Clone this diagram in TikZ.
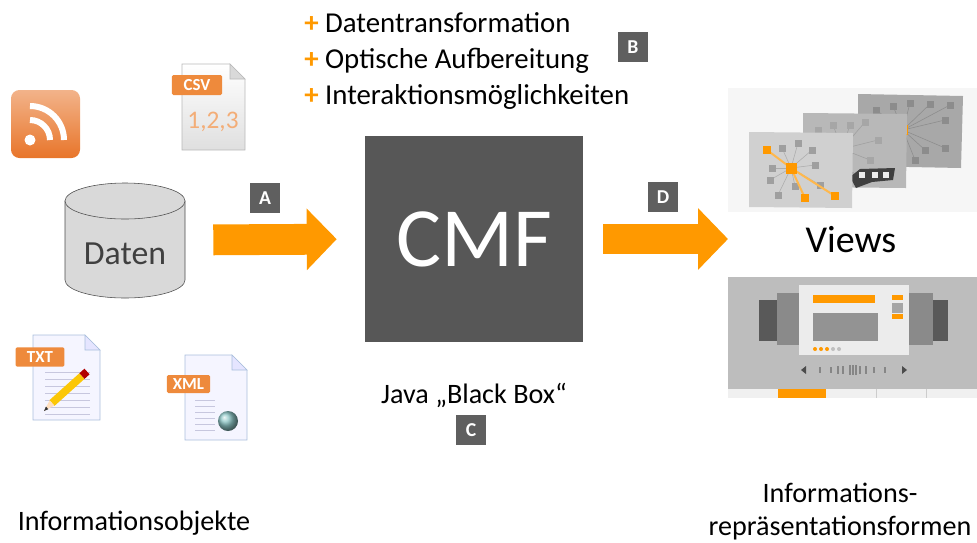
\documentclass[tikz,border=0pt]{standalone}
\usepackage{fontspec}
\setmainfont{Carlito}
\usetikzlibrary{arrows.meta}
\definecolor{cmforange}{HTML}{FF9900}
\definecolor{taggray}{HTML}{5F5F5F}
\definecolor{boxgray}{HTML}{575757}
\definecolor{rssorange}{HTML}{E8752A}
\definecolor{taborange}{HTML}{EE8A3C}
\definecolor{pagerim}{HTML}{A9BFDC}

\begin{document}
\begin{tikzpicture}[x=0.025cm, y=-0.025cm,
    txt/.style={font=\fontsize{20}{25}\selectfont, align=center, inner sep=0pt},
    tag/.style={fill=taggray, text=white, font=\bfseries\fontsize{14}{14}\selectfont, minimum size=0.75cm, inner sep=0pt},
    bigarrow/.style={draw=cmforange, line width=0.77cm, -{Triangle[length=0.75cm, width=1.5cm]}},
    filetab/.style={fill=taborange, rounded corners=1pt, text=white, font=\bfseries\fontsize{12}{12}\selectfont, inner sep=0pt},
    sq/.style={fill=gray!90}
]
\useasboundingbox (0,0) rectangle (977,542);

% sources
\shade[rounded corners=6pt, top color=rssorange!55!white, bottom color=rssorange] (11,90) rectangle (80,158);
\fill[white] (30,140) circle (5.5);
\draw[white, line width=0.15cm] (50,140) arc[start angle=0, end angle=-90, radius=20];
\draw[white, line width=0.15cm] (64,140) arc[start angle=0, end angle=-90, radius=34];

\shade[top color=white, bottom color=gray!25, draw=gray!55] (182,64) -- (230,64) -- (245,79) -- (245,150) -- (182,150) -- cycle;
\fill[gray!30, draw=gray!55] (230,64) -- (230,79) -- (245,79) -- cycle;
\node[filetab, minimum width=1.25cm, minimum height=0.5cm] (csv) at (197,85) {CSV};
\node[font=\fontsize{18}{18}\selectfont, text=taborange!70!white] (csvdata) at (213,122) {1,2,3};

\fill[blue!4, draw=pagerim] (33,335) -- (85,335) -- (100,350) -- (100,420) -- (33,420) -- cycle;
\fill[blue!10, draw=pagerim] (85,335) -- (85,350) -- (100,350) -- cycle;
\foreach \y in {372,379,...,414} \draw[blue!25!gray!35] (45,\y) -- (90,\y);
\node[filetab, minimum width=1.22cm, minimum height=0.48cm] (txt) at (40,357) {TXT};
\draw[line width=0.19cm, draw=yellow!60!orange] (52,403) -- (82,376);
\draw[line width=0.19cm, draw=red!70!black] (82,376) -- (87,371.5);
\fill[orange!25] (44,411) -- (49.7,400.4) -- (54.3,405.6) -- cycle;
\fill[black!80] (44,411) -- (46,406.6) -- (48.3,409.2) -- cycle;

\fill[blue!4, draw=pagerim] (185,355) -- (232,355) -- (247,370) -- (247,440) -- (185,440) -- cycle;
\fill[blue!10, draw=pagerim] (232,355) -- (232,370) -- (247,370) -- cycle;
\foreach \y in {400,406,...,430} \draw[blue!25!gray!35] (195,\y) -- (215,\y);
\shade[ball color=teal!45] (228,421) circle (10);
\node[filetab, minimum width=1.08cm, minimum height=0.45cm] (xml) at (188.5,384) {XML};

% database
\filldraw[fill=gray!30, draw=black!70] (65,201) -- (65,280) arc[start angle=180, end angle=0, x radius=60, y radius=18] -- (185,201) -- cycle;
\filldraw[fill=gray!30, draw=black!70] (125,201) ellipse [x radius=60, y radius=18];
\node[minimum width=3cm, minimum height=2.875cm, inner sep=0pt] (db) at (125,240) {};
\node[font=\fontsize{24}{24}\selectfont, text=black!75] (daten) at (125,254) {Daten};

% black box
\node[fill=boxgray, text=white, minimum width=5.45cm, minimum height=5.15cm, font=\fontsize{60}{60}\selectfont] (cmf) at (474,239) {CMF};
\node[txt, align=left, anchor=west, font=\fontsize{20.5}{25.8}\selectfont] (tasks) at (304,61) {\textcolor{cmforange}{\textbf{+}} Datentransformation\\
  \textcolor{cmforange}{\textbf{+}} Optische Aufbereitung\\
  \textcolor{cmforange}{\textbf{+}} Interaktionsmöglichkeiten};
\node[txt] (java) at (474,395) {Java „Black Box“};
\coordinate (vw) at (728,239);

\draw[bigarrow, shorten <=0.7cm, shorten >=0.7cm] (db.east) -- (cmf.west);
\draw[bigarrow, shorten <=0.5cm] (cmf.east) -- (vw);

\node[tag] (ta) at (265,198) {A};
\node[tag] (tb) at (633,47) {B};
\node[tag] (tc) at (471,430) {C};
\node[tag] (td) at (663,197) {D};

% views: graphs
\fill[gray!7] (728,88) rectangle (977,212);
\fill[gray!68] (858,94) -- (963,96) -- (961,168) -- (858,166) -- cycle;
\foreach \x/\y in {876/110,893/106,910/103,930/104,950/105,880/130,875/145,890/155,925/150,945/148,945/120,915/160}{
  \draw[gray!90] (903,130) -- (\x,\y);
  \fill[sq] (\x-3.5,\y-3.5) rectangle (\x+3.5,\y+3.5);
}
\fill[cmforange] (898,125) rectangle (908,135);
\fill[gray!56] (803,113) -- (907,114) -- (906,188) -- (803,187) -- cycle;
\fill[gray!15] (812,150) -- (830,143) -- (848,168) -- (842,185) -- (815,186) -- (807,165) -- cycle;
\foreach \x/\y in {818/130,833/125,850/125,865/122,818/160,825/175,850/175,870/160,878/140}{
  \draw[gray!75] (842,149) -- (\x,\y);
  \fill[gray!70] (\x-3.5,\y-3.5) rectangle (\x+3.5,\y+3.5);
}
\fill[cmforange] (837,144) rectangle (847,154);
\fill[black!75] (850,177) -- (860,169) -- (895,168) -- (893,180) -- (872,182) -- (856,188) -- cycle;
\foreach \x in {862,875,886} \fill[white!85!gray] (\x-3,172) rectangle (\x+3,178);
\fill[gray!37] (749,132) -- (853,133) -- (852,208) -- (749,207) -- cycle;
\foreach \x/\y in {782/148,798/143,772/168,770/180,778/195,795/186,815/165,820/185,812/150}{
  \draw[gray!65] (791,168) -- (\x,\y);
  \fill[gray!75] (\x-3.5,\y-3.5) rectangle (\x+3.5,\y+3.5);
}
\foreach \x/\y in {767/150,805/198,835/196}{
  \draw[cmforange!70, line width=0.05cm] (791,168) -- (\x,\y);
  \fill[cmforange] (\x-4,\y-4) rectangle (\x+4,\y+4);
}
\fill[cmforange] (786,163) rectangle (797,174);

\node[font=\fontsize{27}{27}\selectfont] (views) at (851,240) {Views};

% views: slider
\fill[gray!52] (728,277) rectangle (977,398);
\fill[gray!12] (728,389) rectangle (977,398);
\fill[cmforange] (778,389) rectangle (826,398);
\draw[gray!40] (876,389) -- (876,398) (926,389) -- (926,398);
\fill[black!65] (759,300) rectangle (780,341);
\fill[black!65] (932,300) rectangle (948,341);
\fill[gray!92] (777,293) rectangle (800,345);
\fill[gray!92] (908,293) rectangle (933,345);
\fill[gray!15] (799,285) rectangle (909,355);
\fill[cmforange] (813,295) rectangle (875,303);
\fill[gray!85] (813,313) rectangle (878,341);
\fill[cmforange] (892,295) rectangle (903,300);
\fill[gray!70] (892,303) rectangle (903,313);
\fill[cmforange] (892,314) rectangle (903,319);
\foreach \x in {0,1,2} \fill[cmforange] (815+6*\x,349) circle (2);
\foreach \x in {3,4} \fill[gray!50] (815+6*\x,349) circle (2);
\fill[black!70] (801,370) -- (806,366) -- (806,374) -- cycle;
\fill[black!70] (907,370) -- (902,366) -- (902,374) -- cycle;
\foreach \x/\h in {820/3,831/3,838/4,843/4,850/5,853/5,856/5,860/4,866/4,874/3,885/3}
  \draw[gray!95, line width=0.03cm] (\x,370-\h) -- (\x,370+\h);

% captions
\node[txt] (objects) at (134,523) {Informationsobjekte};
\node[txt, font=\fontsize{20}{23.5}\selectfont] (forms) at (840,512) {Informations-\\repräsentationsformen};
\end{tikzpicture}
\end{document}
